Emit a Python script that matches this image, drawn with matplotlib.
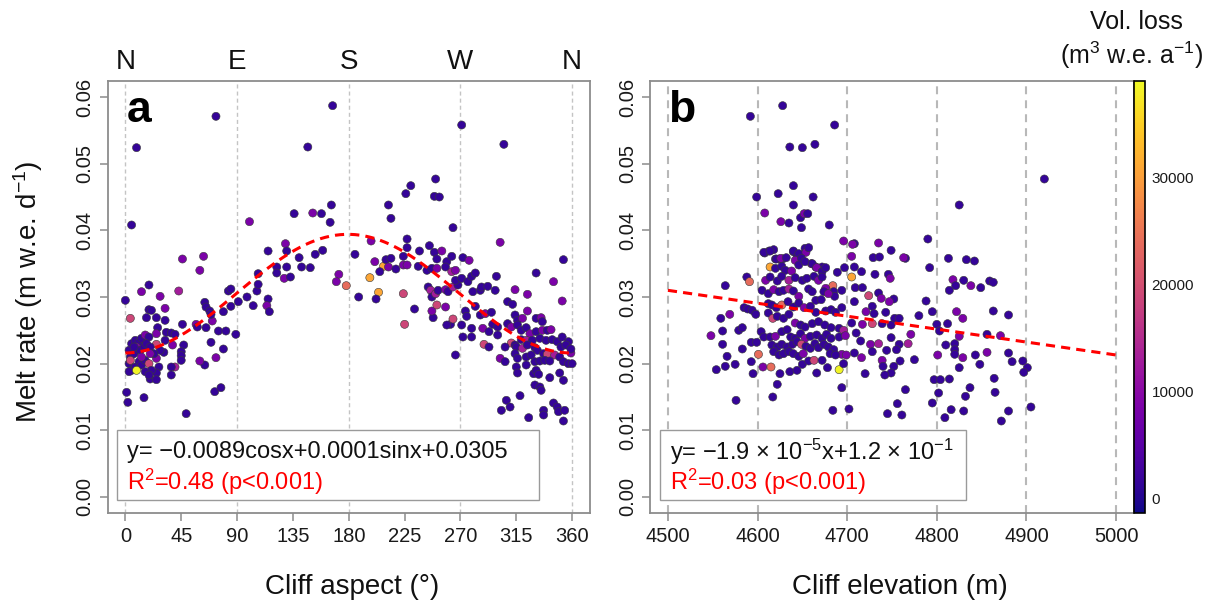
import matplotlib
matplotlib.use("Agg")
import matplotlib.pyplot as plt
import numpy as np
from matplotlib.colors import Normalize
from matplotlib.patches import Rectangle
from matplotlib.cm import ScalarMappable
import matplotlib.transforms as mtransforms

plt.rcParams['font.family'] = ['Liberation Sans', 'DejaVu Sans']
plt.rcParams['mathtext.fontset'] = 'custom'
plt.rcParams['mathtext.rm'] = 'Liberation Sans'
plt.rcParams['mathtext.it'] = 'Liberation Sans:italic'
plt.rcParams['mathtext.bf'] = 'Liberation Sans:bold'

# ---------------- data: panel a (aspect, melt rate, volume loss in 1000 m3) ----------------
aspect_a = [
    5, 136, 100, 0, 4, 13, 19, 28, 32, 43,
    46, 63, 60, 19, 21, 17, 25, 32, 26, 46,
    57, 58, 65, 64, 65, 68, 70, 69, 75, 81,
    79, 85, 83, 85, 89, 91, 98, 103, 106, 107,
    107, 115, 114, 116, 115, 122, 122, 130, 129, 130,
    128, 133, 140, 142, 69, 79, 73, 64, 60, 72,
    77, 49, 47, 45, 45, 45, 40, 37, 37, 31,
    28, 38, 33, 37, 40, 32, 25, 25, 25, 27,
    25, 20, 25,
    3, 5, 8, 11, 13, 16, 19, 4, 7, 9,
    12, 15, 17, 20, 3, 5, 8, 11, 13, 16,
    19, 21, 3, 9, 16, 19, 23, 4, 1, 2,
    15, 7, 13, 20,
    9, 73, 167, 147, 271, 305, 250, 249, 253, 230,
    226, 212, 214, 264,
    166, 151, 158, 165, 302, 149, 153, 159, 172, 170,
    178, 185, 188, 197, 204, 202, 208, 198, 201, 205,
    210, 214, 212, 218, 224, 227, 227, 227, 224, 225,
    233, 224, 237, 245, 249, 255, 251, 259, 263, 272,
    277, 236, 243, 247, 251, 258, 263, 266, 244, 246,
    247, 248, 247, 250, 252, 258, 260, 264, 268, 266,
    271, 276, 279, 282, 251, 258, 262, 259, 264, 271,
    272, 279, 279, 266, 274, 275, 282, 286, 290, 295,
    286, 280, 287, 292, 298, 299, 288, 293, 296, 300,
    289, 300, 302, 293, 303,
    353, 331, 345, 352, 324, 314,
    308, 312, 314, 316, 320, 324, 331, 335, 336, 308,
    311, 316, 319, 323, 326, 331, 336, 340, 343, 311,
    314, 319, 323, 328, 334, 339, 344, 348, 352, 357,
    306, 315, 320, 324, 330, 332, 337, 340, 346, 351,
    355, 359, 306, 314, 316, 323, 327, 330, 334, 338,
    342, 350, 353, 357, 315, 316, 323, 329, 331, 333,
    342, 350, 353, 330, 334, 335, 318, 307, 310, 345,
    348, 349, 354, 337, 337, 325, 353, 359, 360,
]
melt_a = [
    .0408, .0425, .0413, .0295, .0268, .0308, .0318, .0301, .0283, .0309,
    .0357, .0361, .0340, .0281, .0280, .0269, .0269, .0265, .0254, .0259,
    .0259, .0255, .0254, .0292, .0285, .0279, .0264, .0274, .0249, .0249,
    .0278, .0286, .0309, .0312, .0244, .0293, .0300, .0287, .0309, .0319,
    .0335, .0297, .0287, .0278, .0369, .0345, .0336, .0345, .0380, .0369,
    .0328, .0330, .0359, .0345, .0232, .0222, .0209, .0198, .0204, .0158,
    .0164, .0125, .0228, .0218, .0212, .0205, .0195, .0195, .0183, .0217,
    .0220, .0228, .0247, .0246, .0244, .0235, .0245, .0229, .0208, .0195,
    .0186, .0177, .0176,
    .0220, .0230, .0235, .0233, .0238, .0243, .0240, .0210, .0215, .0225,
    .0220, .0225, .0230, .0225, .0200, .0190, .0195, .0203, .0198, .0205,
    .0200, .0190, .0188, .0190, .0188, .0183, .0215, .0205, .0157, .0142,
    .0149, .0225, .0210, .0215,
    .0524, .0571, .0587, .0525, .0558, .0529, .0477, .0451, .0450, .0467,
    .0455, .0438, .0418, .0404,
    .0438, .0426, .0425, .0412, .0382, .0344, .0364, .0370, .0334, .0323,
    .0317, .0364, .0300, .0329, .0307, .0297, .0346, .0384, .0353, .0338,
    .0356, .0358, .0345, .0342, .0348, .0348, .0387, .0374, .0305, .0259,
    .0282, .0361, .0369, .0377, .0367, .0369, .0357, .0353, .0361, .0359,
    .0355, .0346, .0340, .0343, .0343, .0345, .0338, .0340, .0315, .0310,
    .0300, .0269, .0279, .0305, .0310, .0311, .0308, .0315, .0318, .0325,
    .0328, .0323, .0331, .0336, .0288, .0285, .0259, .0258, .0267, .0258,
    .0240, .0240, .0253, .0213, .0279, .0271, .0286, .0273, .0275, .0277,
    .0310, .0308, .0315, .0316, .0310, .0331, .0253, .0248, .0259, .0255,
    .0229, .0243, .0208, .0225, .0130,
    .0356, .0336, .0323, .0294, .0304, .0311,
    .0293, .0289, .0273, .0265, .0268, .0279, .0268, .0269, .0263, .0260,
    .0255, .0258, .0250, .0254, .0245, .0248, .0250, .0250, .0251, .0231,
    .0228, .0236, .0235, .0235, .0238, .0235, .0236, .0233, .0240, .0233,
    .0225, .0225, .0223, .0228, .0224, .0220, .0215, .0214, .0213, .0225,
    .0228, .0216, .0203, .0215, .0208, .0210, .0213, .0203, .0204, .0205,
    .0204, .0210, .0203, .0200, .0195, .0186, .0198, .0185, .0190, .0184,
    .0179, .0186, .0175, .0168, .0165, .0160, .0152, .0145, .0135, .0141,
    .0135, .0128, .0130, .0130, .0123, .0119, .0114, .0222, .0200,
]
vol_a_k = [
    1.5, 1.5, 8.5, 1.5, 19, 8.5, 1.5, 8.5, 8.5, 13,
    8.5, 8.5, 8.5, 1.5, 1.5, 1.5, 1.5, 1.5, 1.5, 1.5,
    8.5, 1.5, 1.5, 1.5, 1.5, 1.5, 8.5, 1.5, 1.5, 1.5,
    1.5, 1.5, 1.5, 1.5, 1.5, 1.5, 1.5, 1.5, 1.5, 1.5,
    1.5, 1.5, 8.5, 1.5, 1.5, 1.5, 1.5, 1.5, 8.5, 1.5,
    8.5, 1.5, 1.5, 1.5, 1.5, 1.5, 8.5, 1.5, 8.5, 1.5,
    1.5, 1.5, 1.5, 1.5, 1.5, 1.5, 13, 1.5, 1.5, 1.5,
    1.5, 8.5, 1.5, 1.5, 1.5, 1.5, 8.5, 19, 8.5, 1.5,
    1.5, 1.5, 1.5,
    1.5, 1.5, 1.5, 1.5, 1.5, 8.5, 1.5, 1.5, 1.5, 8.5,
    1.5, 1.5, 1.5, 1.5, 1.5, 1.5, 1.5, 1.5, 1.5, 1.5,
    19, 1.5, 1.5, 38.5, 1.5, 1.5, 1.5, 19, 1.5, 1.5,
    1.5, 1.5, 8.5, 8.5,
    1.5, 1.5, 1.5, 1.5, 1.5, 1.5, 1.5, 1.5, 1.5, 1.5,
    1.5, 1.5, 1.5, 1.5,
    1.5, 8.5, 1.5, 1.5, 8.5, 1.5, 1.5, 1.5, 8.5, 8.5,
    24, 1.5, 1.5, 31, 31, 1.5, 31, 8.5, 8.5, 1.5,
    1.5, 1.5, 8.5, 1.5, 8.5, 8.5, 1.5, 1.5, 19, 19,
    1.5, 1.5, 1.5, 1.5, 1.5, 8.5, 1.5, 1.5, 1.5, 1.5,
    8.5, 1.5, 1.5, 1.5, 8.5, 1.5, 13, 8.5, 1.5, 13,
    1.5, 1.5, 8.5, 13, 1.5, 8.5, 1.5, 13, 1.5, 1.5,
    1.5, 1.5, 1.5, 1.5, 19, 8.5, 1.5, 1.5, 19, 1.5,
    1.5, 1.5, 1.5, 1.5, 1.5, 1.5, 1.5, 1.5, 8.5, 1.5,
    1.5, 1.5, 1.5, 1.5, 1.5, 1.5, 8.5, 1.5, 1.5, 1.5,
    19, 1.5, 8.5, 1.5, 1.5,
    1.5, 1.5, 8.5, 8.5, 8.5, 8.5,
    1.5, 1.5, 1.5, 1.5, 8.5, 8.5, 1.5, 8.5, 1.5, 1.5,
    8.5, 1.5, 1.5, 1.5, 8.5, 1.5, 8.5, 1.5, 8.5, 19,
    1.5, 1.5, 13, 1.5, 1.5, 1.5, 1.5, 1.5, 1.5, 1.5,
    1.5, 1.5, 13, 1.5, 1.5, 1.5, 1.5, 19, 13, 1.5,
    1.5, 8.5, 1.5, 1.5, 1.5, 1.5, 1.5, 1.5, 1.5, 1.5,
    1.5, 1.5, 1.5, 1.5, 1.5, 1.5, 1.5, 1.5, 1.5, 1.5,
    1.5, 1.5, 1.5, 1.5, 1.5, 1.5, 1.5, 1.5, 1.5, 1.5,
    1.5, 1.5, 1.5, 1.5, 1.5, 1.5, 1.5, 1.5, 1.5,
]

# ---------------- data: panel b (elevation, melt rate, volume loss in 1000 m3) ----------------
elev_b = [
    4592, 4628, 4686, 4636, 4650, 4664, 4920, 4599, 4623, 4640,
    4662, 4640, 4608, 4626, 4635, 4648, 4652, 4656, 4649, 4680,
    4825, 4790, 4696, 4708, 4735, 4749, 4765, 4813, 4833, 4842,
    4792, 4818, 4830, 4838, 4849, 4859, 4863, 4821, 4814, 4564,
    4588, 4591, 4614, 4705, 4684, 4608, 4613, 4618, 4620, 4624,
    4628, 4640, 4644, 4648, 4653, 4660, 4665, 4672,
    4585, 4589, 4594, 4598, 4569, 4559, 4548, 4561, 4561, 4566,
    4554, 4564, 4575, 4576, 4579, 4583, 4583, 4593, 4599, 4593,
    4595, 4601, 4606, 4615, 4622, 4617, 4625, 4636, 4644, 4650,
    4657, 4666, 4678, 4691, 4694, 4684, 4702, 4697, 4689,
    4607, 4614, 4640, 4646, 4654, 4657,
    4621, 4626, 4632, 4642, 4649, 4620, 4627, 4631, 4638, 4646, 4653, 4661, 4666, 4672, 4676,
    4609, 4614, 4622, 4627, 4635, 4642, 4650, 4655, 4663, 4668, 4672, 4676, 4685, 4686,
    4605, 4612, 4618, 4624, 4629, 4635, 4640, 4646, 4657, 4661, 4665, 4674, 4679, 4694,
    4612, 4616, 4621, 4627, 4634, 4640, 4646, 4652, 4659, 4665, 4671, 4676, 4682, 4687, 4694,
    4612, 4617, 4622, 4629, 4635, 4642, 4648, 4653, 4661, 4668, 4675, 4682, 4691, 4696,
    4604, 4607, 4614, 4620, 4627, 4633, 4637, 4642, 4648, 4653, 4659, 4666, 4672, 4677, 4682, 4691, 4698,
    4616, 4622, 4627, 4633, 4639, 4644, 4649, 4654, 4659, 4664, 4668, 4674, 4679, 4685, 4694, 4699,
    4618, 4624, 4629, 4635, 4640, 4646, 4651, 4663, 4672, 4681, 4687, 4696,
    4788, 4795, 4780, 4800, 4812, 4803, 4822, 4829, 4825, 4863,
    4880, 4856, 4871, 4810, 4820, 4820, 4820, 4829, 4825, 4843,
    4848, 4856, 4880, 4884, 4896, 4901, 4897, 4801, 4797, 4804,
    4814, 4802, 4795, 4765, 4756, 4761, 4745, 4809, 4816, 4830,
    4832, 4837, 4864, 4865, 4872, 4880, 4905,
    4706, 4705, 4708, 4729, 4736, 4763, 4716, 4731, 4746, 4748,
    4709, 4717, 4724, 4735, 4738, 4752, 4747, 4708, 4721, 4728,
    4730, 4743, 4753, 4758, 4749, 4739, 4728, 4717, 4705, 4771,
    4710, 4715, 4726, 4735, 4749, 4758, 4768, 4708, 4716, 4728,
    4739, 4744, 4755, 4740, 4752, 4759, 4775, 4749, 4742, 4720,
]
melt_b = [
    .0571, .0587, .0558, .0525, .0524, .0529, .0477, .0450, .0455, .0467,
    .0450, .0438, .0426, .0413, .0411, .0419, .0425, .0425, .0404, .0408,
    .0438, .0387, .0384, .0380, .0381, .0370, .0358, .0358, .0356, .0354,
    .0344, .0326, .0325, .0317, .0314, .0324, .0322, .0317, .0310, .0317,
    .0330, .0323, .0345, .0330, .0317, .0366, .0369, .0371, .0357, .0357,
    .0357, .0368, .0363, .0362, .0373, .0350, .0345, .0345,
    .0284, .0282, .0280, .0274, .0274, .0268, .0242, .0249, .0229, .0211,
    .0191, .0196, .0199, .0145, .0250, .0254, .0222, .0232, .0232, .0203,
    .0185, .0214, .0195, .0195, .0169, .0150, .0185, .0188, .0190, .0199,
    .0204, .0186, .0194, .0191, .0164, .0130, .0132, .0344, .0337,
    .0367, .0369, .0369, .0365, .0367, .0374,
    .0357, .0358, .0359, .0355, .0358, .0343, .0346, .0340, .0339, .0348, .0353, .0350, .0344, .0338, .0344,
    .0325, .0330, .0324, .0331, .0325, .0329, .0325, .0328, .0331, .0325, .0330, .0313, .0308, .0301,
    .0310, .0305, .0311, .0308, .0310, .0312, .0309, .0301, .0312, .0308, .0295, .0308, .0305, .0310,
    .0290, .0288, .0284, .0288, .0293, .0285, .0291, .0284, .0286, .0277, .0296, .0279, .0281, .0277, .0284,
    .0276, .0268, .0271, .0268, .0274, .0261, .0258, .0255, .0260, .0263, .0258, .0254, .0253, .0250,
    .0248, .0240, .0240, .0241, .0248, .0251, .0240, .0238, .0245, .0238, .0241, .0243, .0238, .0244, .0238, .0240, .0242,
    .0228, .0225, .0229, .0225, .0229, .0233, .0229, .0226, .0223, .0230, .0224, .0229, .0225, .0221, .0214, .0213,
    .0218, .0213, .0215, .0218, .0215, .0211, .0215, .0205, .0205, .0215, .0213, .0200,
    .0294, .0278, .0272, .0259, .0260, .0249, .0278, .0268, .0241, .0279,
    .0273, .0244, .0242, .0228, .0230, .0221, .0214, .0209, .0194, .0213,
    .0199, .0217, .0216, .0203, .0204, .0194, .0187, .0213, .0176, .0176,
    .0177, .0156, .0141, .0161, .0140, .0123, .0125, .0119, .0131, .0129,
    .0151, .0164, .0178, .0157, .0114, .0129, .0135,
    .0379, .0361, .0345, .0359, .0360, .0359, .0338, .0334, .0334, .0328,
    .0314, .0314, .0302, .0306, .0298, .0297, .0293, .0293, .0278, .0286,
    .0275, .0277, .0268, .0268, .0258, .0260, .0260, .0259, .0261, .0244,
    .0246, .0234, .0229, .0230, .0239, .0229, .0230, .0216, .0209, .0218,
    .0205, .0220, .0221, .0196, .0196, .0204, .0206, .0186, .0183, .0185,
]
vol_b_k = [
    1.5, 1.5, 1.5, 1.5, 1.5, 1.5, 1.5, 1.5, 1.5, 1.5,
    1.5, 1.5, 8.5, 8.5, 1.5, 1.5, 8.5, 1.5, 1.5, 1.5,
    1.5, 1.5, 8.5, 1.5, 8.5, 1.5, 1.5, 1.5, 1.5, 1.5,
    1.5, 8.5, 1.5, 8.5, 1.5, 1.5, 1.5, 1.5, 1.5, 1.5,
    1.5, 24, 31, 31, 24, 1.5, 1.5, 1.5, 1.5, 8.5,
    1.5, 1.5, 1.5, 1.5, 1.5, 8.5, 1.5, 1.5,
    1.5, 1.5, 1.5, 1.5, 8.5, 1.5, 8.5, 1.5, 1.5, 1.5,
    1.5, 1.5, 1.5, 1.5, 1.5, 1.5, 1.5, 1.5, 1.5, 1.5,
    1.5, 24, 8.5, 24, 1.5, 1.5, 1.5, 1.5, 1.5, 1.5,
    1.5, 1.5, 1.5, 38.5, 1.5, 1.5, 1.5, 1.5, 1.5,
    1.5, 1.5, 1.5, 1.5, 8.5, 1.5,
    1.5, 8.5, 1.5, 8.5, 1.5, 1.5, 1.5, 1.5, 8.5, 1.5, 1.5, 1.5, 8.5, 1.5, 1.5,
    8.5, 1.5, 1.5, 1.5, 13, 1.5, 1.5, 1.5, 1.5, 8.5, 1.5, 8.5, 1.5, 1.5,
    1.5, 1.5, 8.5, 1.5, 1.5, 13, 1.5, 8.5, 1.5, 1.5, 1.5, 1.5, 8.5, 1.5,
    1.5, 1.5, 1.5, 24, 1.5, 1.5, 1.5, 8.5, 1.5, 1.5, 1.5, 1.5, 1.5, 1.5, 1.5,
    1.5, 19, 1.5, 1.5, 1.5, 8.5, 1.5, 1.5, 1.5, 1.5, 1.5, 1.5, 1.5, 13,
    1.5, 1.5, 1.5, 8.5, 1.5, 1.5, 1.5, 1.5, 1.5, 8.5, 1.5, 1.5, 1.5, 1.5, 1.5, 1.5, 8.5,
    1.5, 1.5, 1.5, 1.5, 1.5, 1.5, 19, 1.5, 1.5, 1.5, 1.5, 1.5, 1.5, 1.5, 8.5, 8.5,
    1.5, 1.5, 1.5, 1.5, 1.5, 1.5, 8.5, 19, 1.5, 1.5, 1.5, 1.5,
    1.5, 1.5, 1.5, 1.5, 1.5, 1.5, 8.5, 8.5, 8.5, 1.5,
    1.5, 1.5, 8.5, 1.5, 1.5, 1.5, 1.5, 8.5, 1.5, 1.5,
    1.5, 8.5, 1.5, 1.5, 1.5, 1.5, 1.5, 8.5, 1.5, 1.5,
    1.5, 1.5, 1.5, 1.5, 1.5, 1.5, 1.5, 1.5, 1.5, 1.5,
    1.5, 1.5, 1.5, 1.5, 1.5, 1.5, 1.5,
    8.5, 8.5, 1.5, 1.5, 1.5, 8.5, 1.5, 1.5, 1.5, 8.5,
    1.5, 1.5, 19, 1.5, 8.5, 1.5, 8.5, 1.5, 8.5, 1.5,
    1.5, 1.5, 1.5, 1.5, 1.5, 1.5, 19, 8.5, 1.5, 8.5,
    1.5, 1.5, 8.5, 13, 1.5, 1.5, 13, 1.5, 8.5, 1.5,
    8.5, 1.5, 1.5, 1.5, 1.5, 1.5, 1.5, 1.5, 1.5, 1.5,
]
vol_a = [v * 1000 for v in vol_a_k]
vol_b = [v * 1000 for v in vol_b_k]

# fitted models as printed in the chart
fit_a_cos, fit_a_sin, fit_a_const = -0.0089, 0.0001, 0.0305
fit_b_x = [4500, 5000]
fit_b_y = [0.0310, 0.0213]

compass_pos = [0, 90, 180, 270, 360]
compass_lab = ["N", "E", "S", "W", "N"]
yticks = [0.00, 0.01, 0.02, 0.03, 0.04, 0.05, 0.06]
xticks_a = [0, 45, 90, 135, 180, 225, 270, 315, 360]
xticks_b = [4500, 4600, 4700, 4800, 4900, 5000]
cbar_ticks = [0, 10000, 20000, 30000]

# ---------------- layout ----------------
W, H = 1221, 609
fig = plt.figure(figsize=(W / 100, H / 100), dpi=100)
fx = lambda px: px / W
fy = lambda py: 1 - py / H

top, bot = 81, 513
axa = fig.add_axes([fx(107.5), fy(bot), (590 - 107.5) / W, (bot - top) / H])
axb = fig.add_axes([fx(650), fy(bot), (1134 - 650) / W, (bot - top) / H])
cax = fig.add_axes([fx(1134), fy(bot), (1144.5 - 1134) / W, (bot - top) / H])

norm = Normalize(vmin=-1380, vmax=39080)
cmap = plt.get_cmap('plasma')
spine_c = '#8c8c8c'

for ax in (axa, axb):
    ax.set_ylim(-0.0024, 0.0624)
    ax.set_yticks(yticks)
    ax.set_yticklabels([f"{v:.2f}" for v in yticks], rotation=90, va='center')
    for s in ax.spines.values():
        s.set_color(spine_c)
        s.set_linewidth(1.3)
    ax.tick_params(color=spine_c, length=6, width=1.1, labelsize=14.5,
                   labelcolor='#1a1a1a')
    ax.tick_params(axis='x', pad=4)
    ax.tick_params(axis='y', pad=3.5)

# panel a
axa.set_xlim(-14.4, 374.4)
axa.set_xticks(xticks_a)
for g in compass_pos:
    axa.axvline(g, color='#c4c4c4', lw=1.0, ls=(0, (2.9, 2.2)), zorder=0)
axa.scatter(aspect_a, melt_a, c=vol_a, cmap=cmap, norm=norm, s=34,
            edgecolors='#3a3a3a', linewidths=0.4, zorder=3)
xa = np.linspace(0, 360, 361)
ya = fit_a_cos * np.cos(np.radians(xa)) + fit_a_sin * np.sin(np.radians(xa)) + fit_a_const
axa.plot(xa, ya, color='red', lw=2.2, ls=(0, (3, 2)), zorder=4)

trans = mtransforms.blended_transform_factory(axa.transData, fig.transFigure)
for p, l in zip(compass_pos, compass_lab):
    axa.text(p, fy(62), l, transform=trans, ha='center', va='center',
             fontsize=20, color='#111111', clip_on=False)

# panel b
axb.set_xlim(4480, 5020)
axb.set_xticks(xticks_b)
for g in xticks_b:
    axb.axvline(g, color='#b8b8b8', lw=1.5, ls=(0, (3.8, 2.9)), zorder=0)
axb.scatter(elev_b, melt_b, c=vol_b, cmap=cmap, norm=norm, s=34,
            edgecolors='#3a3a3a', linewidths=0.4, zorder=3)
axb.plot(fit_b_x, fit_b_y, color='red', lw=2.2, ls=(0, (3, 2)), zorder=4)

# annotation boxes
for ax, x0, x1 in ((axa, 117.3, 539), (axb, 659.6, 965.8)):
    r = Rectangle((fx(x0), fy(500)), (x1 - x0) / W, 70 / H, transform=fig.transFigure,
                  facecolor='white', edgecolor='#9a9a9a', lw=1.0, zorder=5, clip_on=False)
    ax.add_artist(r)

fig.text(fx(126.7), fy(452), "y= \u22120.0089cosx+0.0001sinx+0.0305", fontsize=17,
         ha='left', va='center', color='#111111', zorder=10)
fig.text(fx(126.7), fy(482), "R$^{2}$=0.48 (p<0.001)", fontsize=17,
         ha='left', va='center', color='red', zorder=10)
fig.text(fx(669.6), fy(452), "y= \u22121.9 \u00d7 10$^{-5}$x+1.2 \u00d7 10$^{-1}$", fontsize=17,
         ha='left', va='center', color='#111111', zorder=10)
fig.text(fx(669.6), fy(482), "R$^{2}$=0.03 (p<0.001)", fontsize=17,
         ha='left', va='center', color='red', zorder=10)

# panel letters
fig.text(fx(127), fy(122), "a", fontsize=32, fontweight='bold', ha='left', va='baseline')
fig.text(fx(668), fy(122), "b", fontsize=32, fontweight='bold', ha='left', va='baseline')

# axis labels
fig.text(fx(28), fy(292), "Melt rate (m w.e. d$^{-1}$)", rotation=90, fontsize=20,
         ha='center', va='center', color='#111111')
fig.text(fx(352), fy(587), "Cliff aspect (\u00b0)", fontsize=20, ha='center', va='center',
         color='#111111')
fig.text(fx(900), fy(587), "Cliff elevation (m)", fontsize=20, ha='center', va='center',
         color='#111111')

# colorbar
cb = fig.colorbar(ScalarMappable(norm=norm, cmap=cmap), cax=cax)
cb.set_ticks(cbar_ticks)
cb.set_ticklabels([str(t) for t in cbar_ticks])
cax.tick_params(length=0, labelsize=11, pad=5, labelcolor='#1a1a1a')
cb.outline.set_edgecolor('black')
cb.outline.set_linewidth(1.2)
fig.text(fx(1136), fy(22), "Vol. loss", fontsize=18, ha='center', va='center', color='#111111')
fig.text(fx(1132), fy(55), "(m$^{3}$ w.e. a$^{-1}$)", fontsize=18, ha='center', va='center',
         color='#111111')

fig.savefig("out.png", dpi=100)
